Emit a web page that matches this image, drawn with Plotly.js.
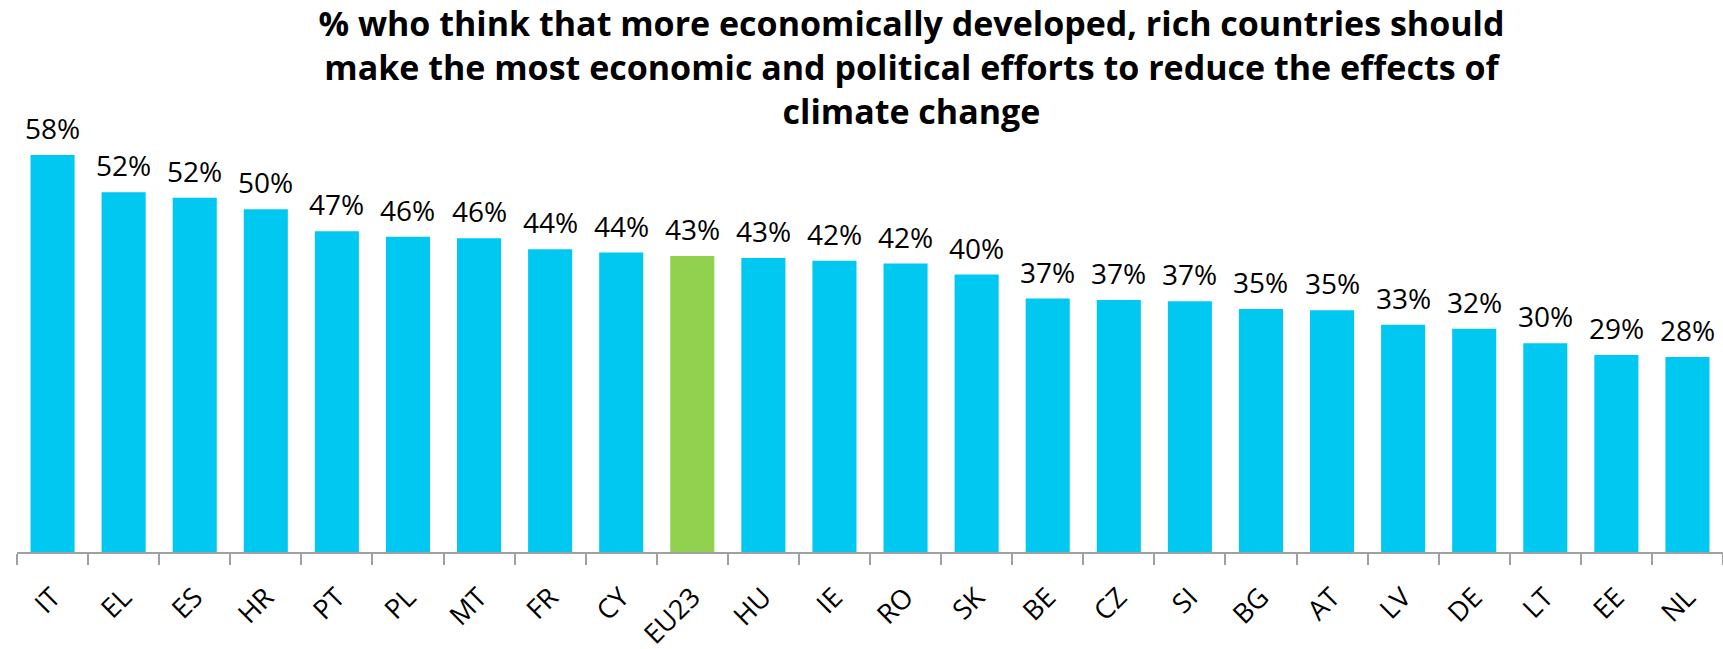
<!DOCTYPE html>
<html>
<head>
<meta charset="utf-8">
<script src="https://cdn.plot.ly/plotly-3.0.1.min.js"></script>
<style>html,body{margin:0;padding:0;background:#fff;}#chart{width:1723px;height:649px;}</style>
</head>
<body>
<div id="chart"></div>
<script>
const categories = ["IT","EL","ES","HR","PT","PL","MT","FR","CY","EU23","HU","IE","RO","SK","BE","CZ","SI","BG","AT","LV","DE","LT","EE","NL"];
const values = [57.8,52.4,51.6,49.9,46.7,45.9,45.7,44.1,43.6,43.1,42.8,42.4,42.0,40.4,36.9,36.7,36.5,35.4,35.2,33.1,32.5,30.4,28.7,28.4];
const valueLabels = ["58%","52%","52%","50%","47%","46%","46%","44%","44%","43%","43%","42%","42%","40%","37%","37%","37%","35%","35%","33%","32%","30%","29%","28%"];
const highlight = "EU23";
const titleText = "% who think that more economically developed, rich countries should<br>make the most economic and political efforts to reduce the effects of<br>climate change";

const FONT = "'Open Sans', 'Noto Sans', sans-serif";
const colors = categories.map(c => c === highlight ? "#92D050" : "#00C8F0");

const trace = {
  type: "bar",
  x: categories,
  y: values,
  marker: {color: colors, line: {width: 0}},
  hoverinfo: "x+y"
};

const annotations = categories.map((c, i) => ({
  x: c, y: values[i], xref: "x", yref: "y",
  text: valueLabels[i], showarrow: false,
  yanchor: "bottom", xanchor: "center", yshift: 6,
  font: {family: FONT, size: 28, color: "#000"}
}));

const layout = {
  width: 1723, height: 649,
  margin: {l: 17, r: 0, t: 140, b: 97, pad: 0},
  paper_bgcolor: "#fff", plot_bgcolor: "#fff",
  showlegend: false,
  bargap: 0.38,
  title: {
    text: titleText,
    font: {family: FONT, size: 34, color: "#000", weight: 700},
    x: 0.529, xanchor: "center", xref: "container",
    y: 0.945, yanchor: "top", yref: "container"
  },
  xaxis: {
    type: "category",
    showline: true, linecolor: "#A0A0A0", linewidth: 1.5,
    ticks: "outside", tickson: "boundaries", ticklen: 11, tickcolor: "#A0A0A0", tickwidth: 1.5,
    tickangle: -45, ticklabelstandoff: 17,
    tickfont: {family: FONT, size: 27, color: "#000"},
    showgrid: false, zeroline: false
  },
  yaxis: {
    range: [0, 60], visible: false, showgrid: false, zeroline: false
  },
  annotations: annotations
};

Plotly.newPlot("chart", [trace], layout, {displayModeBar: false, responsive: false});
</script>
</body>
</html>
